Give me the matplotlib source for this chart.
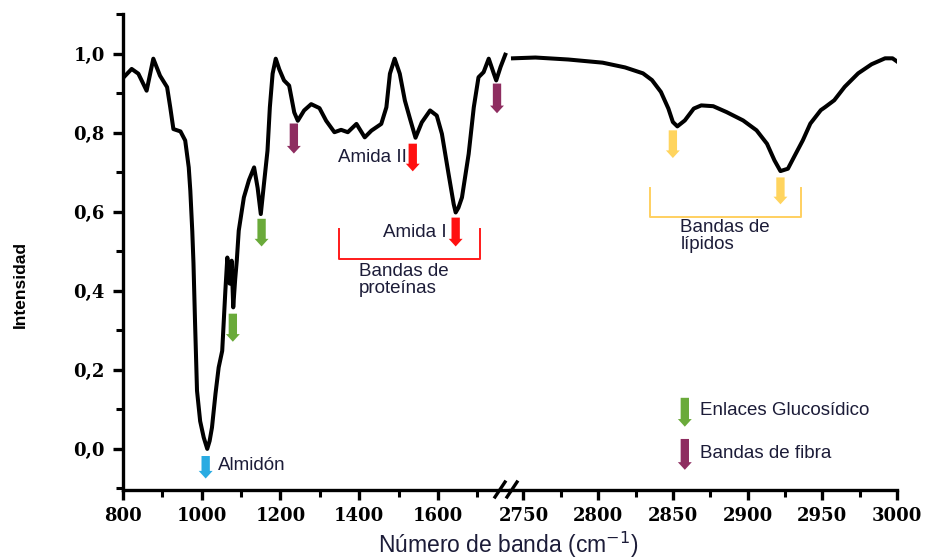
import numpy as np
import matplotlib
matplotlib.use("Agg")
import matplotlib.pyplot as plt
from matplotlib.patches import ArrowStyle

# spectrum, low wavenumber region
wn_low = [800, 822, 839, 860, 877, 894, 912, 920, 928, 946, 958, 967, 971, 976, 979,
          983, 988, 996, 1005, 1014, 1020, 1026, 1035, 1043, 1052, 1060, 1065, 1071,
          1076, 1080, 1085, 1089, 1094, 1107, 1120, 1133, 1142, 1150, 1158, 1167,
          1173, 1180, 1188, 1197, 1209, 1222, 1235, 1244, 1260, 1278, 1299, 1316,
          1337, 1354, 1371, 1393, 1414, 1431, 1456, 1469, 1478, 1490, 1503, 1516,
          1529, 1543, 1559, 1580, 1597, 1610, 1627, 1640, 1645, 1652, 1661, 1678,
          1691, 1703, 1716, 1729, 1742, 1748, 1759, 1771]
int_low = [0.938, 0.961, 0.949, 0.906, 0.987, 0.944, 0.915, 0.864, 0.809, 0.803,
           0.780, 0.712, 0.653, 0.55, 0.47, 0.32, 0.147, 0.07, 0.029, 0.0, 0.02,
           0.054, 0.14, 0.206, 0.248, 0.40, 0.484, 0.418, 0.476, 0.358, 0.43, 0.476,
           0.552, 0.636, 0.68, 0.712, 0.66, 0.594, 0.670, 0.754, 0.864, 0.949, 0.987,
           0.96, 0.932, 0.919, 0.851, 0.830, 0.856, 0.872, 0.862, 0.830, 0.801,
           0.807, 0.801, 0.822, 0.788, 0.805, 0.822, 0.864, 0.949, 0.987, 0.949,
           0.881, 0.835, 0.787, 0.826, 0.856, 0.843, 0.797, 0.695, 0.619, 0.598,
           0.61, 0.636, 0.746, 0.864, 0.940, 0.953, 0.987, 0.949, 0.932, 0.966, 0.997]

# spectrum, high wavenumber region
wn_high = [2743, 2758, 2780, 2803, 2818, 2830, 2836, 2842, 2847, 2850, 2853, 2858,
           2864, 2869, 2877, 2886, 2897, 2906, 2913, 2918, 2922, 2927, 2931, 2937,
           2942, 2949, 2952, 2958, 2965, 2974, 2983, 2992, 2997, 3000]
int_high = [0.987, 0.989, 0.984, 0.976, 0.964, 0.949, 0.932, 0.902, 0.860, 0.826,
            0.815, 0.830, 0.860, 0.868, 0.866, 0.851, 0.830, 0.805, 0.771, 0.729,
            0.702, 0.708, 0.737, 0.780, 0.822, 0.856, 0.864, 0.881, 0.915, 0.949,
            0.972, 0.987, 0.987, 0.979]

# arrows: (axis, x, y_top, y_bottom, colour)
arrows = [
    (0, 1010, -0.018, -0.075, "#29abe2"),
    (0, 1152, 0.582, 0.512, "#6aaa3a"),
    (0, 1079, 0.342, 0.271, "#6aaa3a"),
    (0, 1234, 0.823, 0.747, "#8e2d60"),
    (0, 1750, 0.924, 0.849, "#8e2d60"),
    (0, 1536, 0.772, 0.702, "#ff1010"),
    (0, 1645, 0.585, 0.512, "#ff1010"),
    (1, 2850, 0.805, 0.735, "#ffd45e"),
    (1, 2922, 0.686, 0.618, "#ffd45e"),
    (1, 2858, 0.129, 0.056, "#6aaa3a"),
    (1, 2858, 0.025, -0.053, "#8e2d60"),
]

txt_col = "#1c1c38"
W, H = 925, 560
fig = plt.figure(figsize=(W / 100, H / 100), dpi=100)

def fx(px):
    return px / W

def fy(py):
    return 1 - py / H

bot, top = fy(490), fy(14)
ax1 = fig.add_axes([fx(123), bot, fx(510) - fx(123), top - bot])
ax2 = fig.add_axes([fx(510), bot, fx(897) - fx(510), top - bot])

ylo, yhi = -0.104, 1.099
for ax in (ax1, ax2):
    ax.set_ylim(ylo, yhi)
    ax.spines["top"].set_visible(False)
    ax.spines["right"].set_visible(False)
    for s in ("left", "bottom"):
        ax.spines[s].set_linewidth(2.4)
    ax.tick_params(which="major", length=7, width=2.4, direction="out")
    ax.tick_params(which="minor", length=5, width=2.2, direction="out")

ax1.plot(wn_low, int_low, color="black", lw=2.9, solid_joinstyle="round")
ax2.plot(wn_high, int_high, color="black", lw=2.9, solid_joinstyle="round")

ax1.set_xlim(800, 1783)
ax2.set_xlim(2741, 3000)
ax2.spines["left"].set_visible(False)
ax2.tick_params(axis="y", which="both", left=False, labelleft=False)

ax1.set_xticks([800, 1000, 1200, 1400, 1600])
ax1.set_xticks([900, 1100, 1300, 1500, 1700], minor=True)
ax2.set_xticks([2750, 2800, 2850, 2900, 2950, 3000])
ax2.set_xticks([2775, 2825, 2875, 2925, 2975], minor=True)
ax1.set_yticks([0.0, 0.2, 0.4, 0.6, 0.8, 1.0])
ax1.set_yticks([-0.1, 0.1, 0.3, 0.5, 0.7, 0.9, 1.1], minor=True)
ax1.set_yticklabels([f"{v:.1f}".replace(".", ",") for v in [0.0, 0.2, 0.4, 0.6, 0.8, 1.0]])

tick_font = dict(family="DejaVu Serif", weight="bold", size=13)
for ax in (ax1, ax2):
    for lab in ax.get_xticklabels() + ax.get_yticklabels():
        lab.set_fontproperties(tick_font)
ax1.tick_params(axis="x", pad=5)
ax2.tick_params(axis="x", pad=5)
ax1.tick_params(axis="y", pad=6)

# block arrows
for i, x, y0, y1, c in arrows:
    ax = ax1 if i == 0 else ax2
    ax.annotate("", xy=(x, y1), xytext=(x, y0),
                arrowprops=dict(arrowstyle=ArrowStyle.Simple(head_length=0.55, head_width=1.0, tail_width=0.6),
                                mutation_scale=10, color=c, lw=0, shrinkA=0, shrinkB=0))

af = dict(family="Liberation Sans", size=13.5, color=txt_col)
ax1.text(1040, -0.043, "Almidón", ha="left", va="center", **af)
ax1.text(1521, 0.737, "Amida II", ha="right", va="center", **af)
ax1.text(1622, 0.547, "Amida I", ha="right", va="center", **af)
ax1.text(1400, 0.427, "Bandas de\nproteínas", ha="left", va="center", linespacing=1.0, **af)
ax2.text(2855, 0.538, "Bandas de\nlípidos", ha="left", va="center", linespacing=1.0, **af)
ax2.text(2868, 0.096, "Enlaces Glucosídico", ha="left", va="center", **af)
ax2.text(2868, -0.013, "Bandas de fibra", ha="left", va="center", **af)

# brackets
ax1.plot([1349, 1349, 1707, 1707], [0.557, 0.481, 0.481, 0.557], color="#ff1a1a", lw=1.4)
ax2.plot([2835, 2835, 2936, 2936], [0.658, 0.585, 0.585, 0.658], color="#ffd060", lw=1.4)

# axis break marks
for px in (500, 512):
    fig.lines.append(plt.Line2D([fx(px - 5), fx(px + 5)], [fy(497), fy(482)],
                                transform=fig.transFigure, color="black", lw=2.4))

fig.text(fx(20), fy(284), "Intensidad", rotation=90, ha="center", va="center",
         family="Liberation Sans", weight="bold", size=12.5)
fig.text(fx(508), fy(545), "Número de banda (cm$^{-1}$)", ha="center", va="center",
         family="Liberation Sans", size=16.5, color=txt_col)

fig.savefig("out.png", dpi=100)
